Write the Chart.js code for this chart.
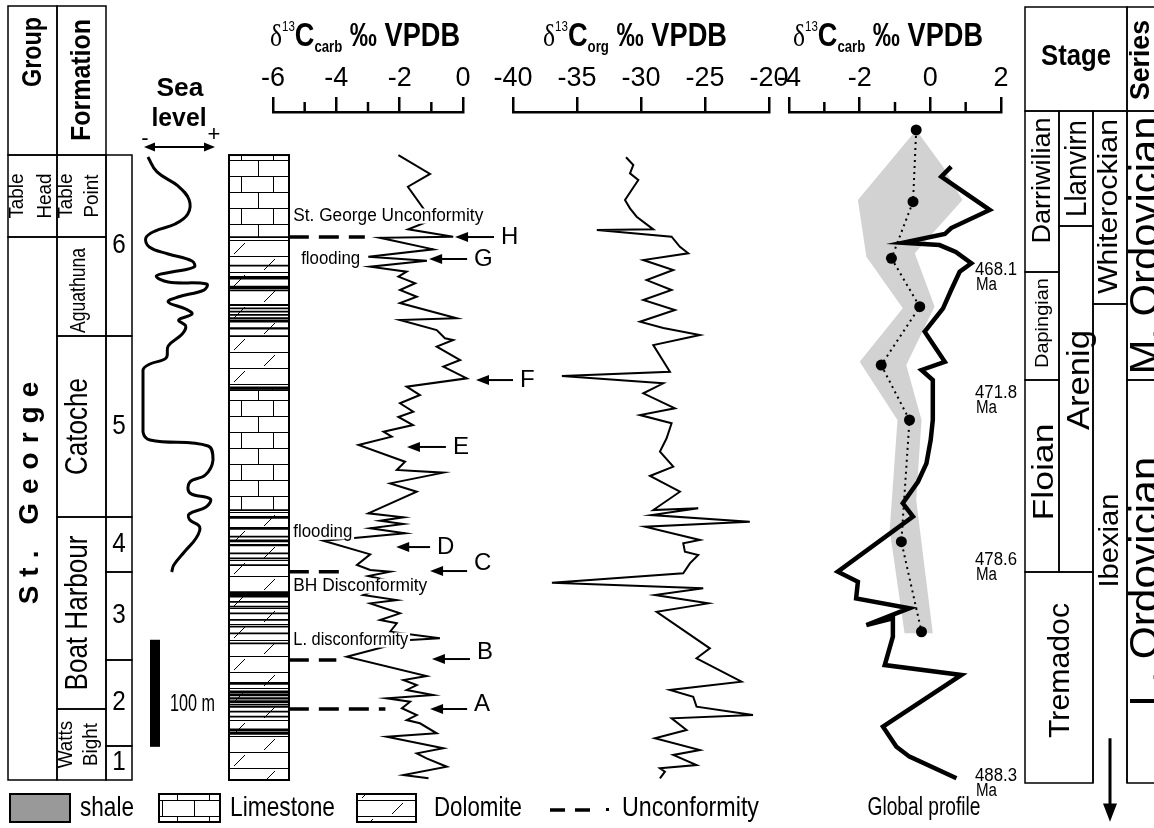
<!DOCTYPE html>
<html>
<head>
<meta charset="utf-8">
<script src="https://cdn.jsdelivr.net/npm/chart.js@4.4.1/dist/chart.umd.min.js"></script>
<style>
  html, body { margin: 0; padding: 0; background: #fff; }
  #fig { position: relative; width: 1154px; height: 828px; overflow: hidden; background: #fff; }
  #fig canvas { position: absolute; left: 0; top: 0; }
</style>
</head>
<body>
<div id="fig"></div>
<script>
// ---------- data (stratigraphic height in metres above base of section) ----------
const sectionTop = 583.8;

const groupNames = ['Table\nHead', 'St. George'];
const groupTop   = [583.8, 507.2];
const groupBase  = [507.2, 0];

const formationNames = ['Table\nPoint', 'Aguathuna', 'Catoche', 'Boat Harbour', 'Watts\nBight'];
const formationTop   = [583.8, 507.2, 414.7, 245.7, 66.3];
const formationBase  = [507.2, 414.7, 245.7, 66.3, 0];

const unitNames = ['6', '5', '4', '3', '2', '1'];
const unitTop   = [583.8, 414.7, 245.7, 194.3, 112.1, 31.8];
const unitBase  = [414.7, 245.7, 194.3, 112.1, 31.8, 0];

const lithType = ['lime', 'dolo', 'dolo', 'lime', 'dolo'];
const lithTop  = [583.8, 507.2, 414.7, 364.3, 252.2];
const lithBase = [507.2, 414.7, 364.3, 252.2, 0];

const shaleMid   = [480.4, 469.2, 460.2, 457.4, 443.7, 440.6, 437.5, 434.4, 431.3, 428.1,
                    421.9, 366.2, 245.4, 235.1, 227.3, 223.3, 219.5, 211.8, 207.1, 200.8,
                    173.4, 166.5, 161.9, 155.7, 149.5, 143.2, 137.0, 127.7, 90.3, 82.2,
                    79.4, 76.3, 73.1, 68.5, 63.8, 59.1, 46.7, 43.6];
const shaleThick = [1, 2.5, 2.5, 1, 1, 1, 1.2, 1, 1.5, 1,
                    1.5, 2, 2, 2, 1, 2, 1.5, 1, 1, 1,
                    5, 1, 1, 1, 1, 1, 1, 1, 2, 2,
                    1.5, 1.5, 2, 1.5, 1, 1, 2, 2];

const scaleBarBase = 31, scaleBarTop = 131;

// relative sea level (0 = low, 1 = high)
const seaLevelM = [582.0, 568.0, 554.9, 541.8, 528.7, 519.4, 512.8, 506.3, 497.9, 491.4,
                   484.8, 479.2, 474.5, 470.8, 465.2, 463.3, 457.7, 451.2, 446.5, 440.0,
                   435.3, 429.7, 424.1, 416.6, 405.4, 394.2, 388.6, 383.0, 355.0, 325.1,
                   317.6, 312.0, 298.9, 284.9, 278.4, 268.1, 262.5, 255.0, 248.5, 242.9,
                   236.3, 226.1, 213.0, 200.8, 194.3];
const seaValue  = [0.07, 0.20, 0.50, 0.66, 0.64, 0.46, 0.17, 0.04, 0.09, 0.36,
                   0.70, 0.73, 0.41, 0.19, 0.36, 0.91, 0.87, 0.50, 0.36, 0.61,
                   0.70, 0.51, 0.61, 0.56, 0.36, 0.33, 0.10, 0.00, 0.00, 0.00,
                   0.10, 0.93, 1.00, 0.89, 0.67, 0.67, 0.96, 0.90, 0.66, 0.67,
                   0.81, 0.76, 0.59, 0.44, 0.41];

// d13C carb (section)
const carbLevel = [583.8, 566.1, 554.2, 523.1, 514.4, 507.5, 506.5, 495.7, 488.8, 485.1,
                   479.5, 474.8, 470.2, 464.0, 457.7, 451.4, 445.6, 431.3, 429.7, 420.3,
                   412.6, 411.0, 404.8, 392.3, 386.1, 375.2, 367.4, 359.6, 351.9, 344.0,
                   339.1, 331.6, 325.4, 320.7, 312.9, 297.3, 289.6, 287.1, 277.1, 269.3,
                   249.1, 245.4, 242.2, 239.1, 235.1, 230.4, 226.3, 223.5, 210.8, 200.8,
                   196.2, 194.6, 190.6, 185.0, 172.8, 168.1, 165.0, 155.7, 149.5, 146.4,
                   138.5, 132.4, 130.8, 115.2, 97.1, 93.4, 88.7, 84.1, 79.4, 76.3,
                   73.1, 67.0, 60.7, 56.0, 53.0, 43.6, 40.4, 29.6, 24.9, 20.2,
                   12.4, 4.7, 1.6];
const carbD13C  = [-2.04, -1.04, -1.74, -0.99, -1.73, -0.31, -2.62, -0.94, -2.99, -1.14,
                   -2.93, -1.78, -2.04, -1.51, -1.99, -1.46, -1.99, -0.20, -1.99, -0.83,
                   -0.57, -0.31, -0.83, -0.09, -0.62, 0.12, -1.78, -1.36, -1.99, -1.57,
                   -2.04, -1.58, -2.51, -2.25, -3.30, -1.83, -2.09, -0.62, -2.30, -1.46,
                   -2.99, -1.88, -2.62, -1.88, -2.93, -1.83, -3.35, -4.41, -2.93, -3.35,
                   -2.93, -2.30, -2.99, -2.15, -3.15, -2.09, -2.93, -1.99, -2.62, -2.09,
                   -2.30, -0.73, -1.67, -3.67, -1.15, -1.88, -1.46, -1.78, -0.94, -2.41,
                   -1.67, -1.93, -1.46, -1.78, -1.36, -0.83, -2.41, -0.62, -1.46, -1.15,
                   -0.51, -1.88, -1.09];

// d13C org (section)
const orgLevel = [581.7, 574.5, 566.7, 560.5, 541.8, 534.0, 526.2, 514.4, 513.8, 507.5,
                  498.1, 492.0, 485.7, 476.4, 467.0, 457.7, 448.4, 439.1, 428.1, 422.2,
                  415.7, 406.3, 381.4, 377.4, 370.6, 361.2, 347.2, 340.9, 333.2, 319.2,
                  306.7, 292.7, 284.0, 269.3, 252.2, 253.8, 247.5, 241.3, 236.6, 224.2,
                  221.1, 213.3, 210.2, 202.4, 193.1, 184.3, 179.1, 172.8, 165.0, 157.2,
                  123.0, 113.7, 91.8, 84.1, 77.8, 68.5, 60.7, 57.6, 46.7, 39.0,
                  28.0, 23.4, 14.0, 10.9, 7.8, 1.6];
const orgD13C  = [-31.17, -30.60, -30.86, -30.21, -31.25, -30.86, -30.34, -29.04, -33.45, -27.61,
                  -26.96, -26.31, -29.82, -27.48, -29.56, -27.61, -29.82, -27.35, -30.08, -28.26,
                  -25.40, -29.04, -27.74, -36.18, -28.26, -29.82, -27.35, -30.08, -27.61, -28.00,
                  -28.52, -27.48, -29.30, -26.96, -29.04, -25.53, -29.17, -21.50, -29.69, -25.40,
                  -26.70, -26.57, -25.53, -26.18, -26.70, -36.96, -25.14, -28.91, -24.75, -28.78,
                  -24.62, -25.66, -22.15, -27.74, -25.92, -25.66, -21.25, -27.61, -26.44, -28.91,
                  -25.40, -27.48, -25.66, -28.52, -28.13, -28.52];

// d13C carb, section curve compared with global profile
const globLevel = [572.9, 563.6, 532.5, 515.6, 510.0, 501.9, 499.7, 493.2, 482.7, 474.8,
                   457.7, 440.6, 418.8, 390.7, 383.0, 373.7, 336.3, 317.6, 295.8, 278.6,
                   258.5, 246.0, 194.6, 185.2, 169.7, 160.5, 144.8, 151.0, 133.9, 107.4,
                   98.1, 49.8, 31.1, 21.8, 1.6];
const globD13C  = [0.59, 0.31, 1.68, 0.59, 0.41, -0.78, 0.26, 0.72, 1.16, 0.83,
                   0.59, 0.36, -0.16, 0.41, -0.25, 0.07, 0.07, 0.01, -0.11, -0.35,
                   -0.78, -0.49, -2.62, -2.05, -2.10, -0.59, -1.81, -1.06, -1.06, -1.29,
                   0.88, -1.34, -0.96, -0.59, 0.74];

const profileLevel = [607.2, 540.2, 487.3, 442.1, 387.6, 336.3, 222.6, 138.5];
const profileD13C  = [-0.40, -0.49, -1.10, -0.30, -1.39, -0.59, -0.82, -0.25];

const bandLevel = [607.2, 541.8, 488.8, 440.6, 390.8, 336.3, 233.5, 137.0,
                   137.0, 261.6, 336.3, 387.6, 442.3, 492.0, 541.8, 572.9];
const bandD13C  = [-0.40, -2.05, -1.81, -0.78, -2.00, -0.93, -1.15, -0.73,
                   0.07, -0.40, -0.25, -0.68, 0.12, -0.44, 0.91, 0.36];

// unconformities and event markers
const unconfLevel = [507.2, 194.6, 112.1, 66.3];
const unconfFrom  = [-5.5, -5.5, -5.5, -5.5];
const unconfTo    = [-3.1, -3.7, -4.0, -2.45];

const markerName  = ['H', 'G', 'F', 'E', 'D', 'C', 'B', 'A'];
const markerLevel = [507.2, 486.7, 373.6, 311.1, 217.6, 195.2, 113.0, 66.3];
const markerTail  = [0.98, 0.13, 1.58, -0.54, -1.04, 0.13, 0.22, 0.13];
const markerHead  = [-0.25, -1.07, 0.41, -1.77, -2.11, -1.04, -0.98, -1.04];

const noteText  = ['St. George Unconformity', 'flooding', 'flooding', 'BH Disconformity', 'L. disconformity'];
const noteLevel = [526.8, 486.7, 231.7, 181.2, 130.8];
const noteX     = [-5.36, -5.11, -5.36, -5.36, -5.36];

// stages / series
const stageNames = ['Darriwilian', 'Dapingian', 'Floian', 'Tremadoc', 'Llanvirn', 'Arenig', 'Whiterockian', 'Ibexian'];
const stageCol   = ['a', 'a', 'a', 'ab', 'b', 'b', 'c', 'c'];
const stageTop   = [624.9, 474.5, 373.6, 194.3, 624.9, 517.5, 624.9, 444.6];
const stageBase  = [474.5, 373.6, 194.3, -2.8, 517.5, 194.3, 444.6, -2.8];

const seriesNames = ['M. Ordovician', 'L. Ordovician'];
const seriesTop   = [624.9, 373.6];
const seriesBase  = [373.6, -2.8];

const ageNames = ['468.1', '471.8', '478.6', '488.3'];
const ageLevel = [476.4, 361.5, 205.5, 3.7];

// ---------- layout ----------
const FONT = '"Liberation Sans", Arial, sans-serif';
const W = 1154, H = 828, AREA_BOTTOM = 786;
const Y_MIN = -5.6, Y_MAX_AXIS = 624, Y_MAX_FULL = 723;
const LEFT_COLS = { group: [0, 49], formation: [49, 98], unit: [98, 124] };
const STAGE_COLS = { a: [0, 34], ab: [0, 68], b: [34, 68], c: [68, 102], s: [102, 140] };

const LEFT_STYLE = {
  'Table\nHead':  { size: 21, sx: 0.9, lines: [-15, 13] },
  'St. George':   { size: 28, bold: true, ls: 9, dx: -2.5, dy: -20 },
  'Table\nPoint': { size: 21, sx: 0.9, lines: [-15.5, 10.5] },
  'Aguathuna':    { size: 22, w: 85, dx: -3, dy: 4 },
  'Catoche':      { size: 31, w: 97, dx: -3 },
  'Boat Harbour': { size: 31, w: 155, dx: -3 },
  'Watts\nBight': { size: 21, sx: 0.9, lines: [-15.5, 9.5] },
  '6': { size: 27, sx: 0.9 }, '5': { size: 27, sx: 0.9 }, '4': { size: 27, sx: 0.9 },
  '3': { size: 27, sx: 0.9 }, '2': { size: 27, sx: 0.9 }, '1': { size: 27, sx: 0.9 }
};
const STAGE_STYLE = {
  'Darriwilian':   { size: 25, w: 126, dx: 1, dy: -11 },
  'Dapingian':     { size: 18, w: 90, dx: 1, dy: -3 },
  'Floian':        { size: 30, w: 97, dx: 3, dy: -4 },
  'Tremadoc':      { size: 30, w: 135, dx: 2, dy: -7 },
  'Llanvirn':      { size: 30, w: 97, dx: 2 },
  'Arenig':        { size: 31, w: 100, dx: 4, dy: -19 },
  'Whiterockian':  { size: 27, w: 175, dx: 0, dy: -1 },
  'Ibexian':       { size: 27, w: 94, dx: 1, dy: -3 },
  'M. Ordovician': { size: 40, w: 258, dx: 1 },
  'L. Ordovician': { size: 40, w: 250, dx: 1 }
};

// ---------- helpers ----------
function txt(ctx, s, x, y, o) {
  o = o || {};
  const size = o.size || 20;
  ctx.save();
  ctx.font = (o.bold ? 'bold ' : '') + size + 'px ' + (o.family || FONT);
  ctx.textBaseline = 'middle';
  ctx.textAlign = o.align || 'center';
  if (o.ls) ctx.letterSpacing = o.ls + 'px';
  ctx.translate(x, y);
  if (o.rot) ctx.rotate(o.rot * Math.PI / 180);
  const mw = ctx.measureText(s).width;
  ctx.scale(o.w ? o.w / mw : (o.sx || 1), 1);
  if (o.bg) {
    ctx.fillStyle = o.bg;
    const x0 = ctx.textAlign === 'left' ? 0 : -mw / 2;
    ctx.fillRect(x0 - 2, -size * 0.42, mw + 4, size * 0.84);
  }
  ctx.fillStyle = '#000';
  ctx.fillText(s, 0, 0);
  ctx.restore();
}

function cells(ctx, X, Y, names, tops, bases, spans, styles, rot, openBottom) {
  names.forEach((n, i) => {
    const x0 = X(spans[i][0]), x1 = X(spans[i][1]), y0 = Y(tops[i]), y1 = Y(bases[i]);
    ctx.beginPath();
    if (openBottom && openBottom.includes(n)) {
      ctx.moveTo(x0, y1); ctx.lineTo(x0, y0); ctx.lineTo(x1, y0); ctx.lineTo(x1, y1);
    } else {
      ctx.rect(x0, y0, x1 - x0, y1 - y0);
    }
    ctx.stroke();
    const s = styles[n] || {};
    const cx = (x0 + x1) / 2 + (s.dx || 0), cy = (y0 + y1) / 2 + (s.dy || 0);
    n.split('\n').forEach((t, k) => {
      txt(ctx, t, cx + (s.lines ? s.lines[k] : 0), cy, Object.assign({}, s, { rot }));
    });
  });
}

function drawTitle(ctx, sub, cx, tw) {
  const runs = [
    { t: '\u03B4', f: '31px "Liberation Serif", serif', dy: 0 },
    { t: '13', f: '14px ' + FONT, dy: -15 },
    { t: 'C', f: 'bold 33px ' + FONT, dy: 0 },
    { t: sub, f: 'bold 16px ' + FONT, dy: 6 },
    { t: ' \u2030 VPDB', f: 'bold 33px ' + FONT, dy: 0 }
  ];
  ctx.save();
  let total = 0;
  runs.forEach(r => { ctx.font = r.f; r.w = ctx.measureText(r.t).width; total += r.w; });
  ctx.translate(cx - tw / 2, 46);
  ctx.scale(tw / total, 1);
  ctx.textBaseline = 'alphabetic'; ctx.textAlign = 'left'; ctx.fillStyle = '#000';
  let x = 0;
  runs.forEach(r => { ctx.font = r.f; ctx.fillText(r.t, x, r.dy); x += r.w; });
  ctx.restore();
}

function minorTicks(chart, vals) {
  const ctx = chart.ctx, xs = chart.scales.x, top = chart.chartArea.top;
  ctx.save(); ctx.strokeStyle = '#000'; ctx.lineWidth = 2.5;
  vals.forEach(v => {
    const x = xs.getPixelForValue(v);
    ctx.beginPath(); ctx.moveTo(x, top); ctx.lineTo(x, top - 10); ctx.stroke();
  });
  ctx.restore();
}

function hArrow(ctx, xTail, xHead, y) {
  ctx.save();
  ctx.strokeStyle = '#000'; ctx.fillStyle = '#000'; ctx.lineWidth = 2;
  ctx.beginPath(); ctx.moveTo(xTail, y); ctx.lineTo(xHead + 8, y); ctx.stroke();
  ctx.beginPath(); ctx.moveTo(xHead, y); ctx.lineTo(xHead + 13, y - 5); ctx.lineTo(xHead + 13, y + 5); ctx.closePath(); ctx.fill();
  ctx.restore();
}

// lithology patterns (anchored to page origin)
function makePattern(kind) {
  const c = document.createElement('canvas');
  const g = c.getContext('2d');
  g.strokeStyle = '#444'; g.lineWidth = 1;
  if (kind === 'lime') {
    c.width = 32; c.height = 32;
    g.fillStyle = '#fff'; g.fillRect(0, 0, 32, 32);
    g.beginPath();
    g.moveTo(0, 0.5); g.lineTo(32, 0.5);
    g.moveTo(0, 16.5); g.lineTo(32, 16.5);
    g.moveTo(2.5, 0); g.lineTo(2.5, 16);
    g.moveTo(17.5, 16); g.lineTo(17.5, 32);
    g.stroke();
  } else {
    c.width = 64; c.height = 32;
    g.fillStyle = '#fff'; g.fillRect(0, 0, 64, 32);
    g.beginPath();
    g.moveTo(0, 0.5); g.lineTo(64, 0.5);
    g.moveTo(0, 16.5); g.lineTo(64, 16.5);
    g.moveTo(8, 14); g.lineTo(19, 3);
    g.moveTo(42, 30); g.lineTo(53, 19);
    g.stroke();
  }
  return g.createPattern(c, 'repeat');
}
const PAT = { lime: makePattern('lime'), dolo: makePattern('dolo') };

const fig = document.getElementById('fig');
function mk(cfg) {
  const c = document.createElement('canvas');
  c.width = W; c.height = H;
  fig.appendChild(c);
  return new Chart(c.getContext('2d'), cfg);
}
function opts(left, right, top, yMax, x, plugins) {
  return {
    responsive: false, animation: false, devicePixelRatio: 1, events: [],
    layout: { padding: { left: left, right: W - right, top: top, bottom: H - AREA_BOTTOM } },
    plugins: Object.assign({ legend: { display: false }, tooltip: { enabled: false } }, plugins || {}),
    elements: { point: { radius: 0 }, line: { borderColor: '#000', tension: 0 } },
    scales: { x: x, y: { type: 'linear', display: false, min: Y_MIN, max: yMax } }
  };
}
function hiddenX(min, max) { return { type: 'linear', display: false, min: min, max: max }; }
function topAxis(min, max, step) {
  return {
    type: 'linear', position: 'top', min: min, max: max,
    afterFit: s => { s.height = 112; },
    border: { display: true, color: '#000', width: 2.5 },
    grid: { drawOnChartArea: false, drawTicks: true, tickLength: 15, lineWidth: 2.5, color: '#000' },
    ticks: { stepSize: step, color: '#000', font: { family: FONT, size: 27 }, padding: 2, maxRotation: 0, autoSkip: false }
  };
}
const pts = (xs, ys) => ys.map((y, i) => ({ x: xs[i], y: y }));

function drawLegend(ctx) {
  const y0 = 794, h = 28, yc = 808;
  ctx.save();
  ctx.strokeStyle = '#000'; ctx.lineWidth = 2;
  ctx.fillStyle = '#999'; ctx.fillRect(10, y0, 60, h); ctx.strokeRect(10, y0, 60, h);
  txt(ctx, 'shale', 80, yc, { size: 28, w: 54, align: 'left' });
  ctx.fillStyle = PAT.lime; ctx.fillRect(159, y0, 61, h); ctx.strokeRect(159, y0, 61, h);
  txt(ctx, 'Limestone', 230, yc, { size: 28, w: 105, align: 'left' });
  ctx.fillStyle = PAT.dolo; ctx.fillRect(357, y0, 59, h); ctx.strokeRect(357, y0, 59, h);
  txt(ctx, 'Dolomite', 434, yc, { size: 28, w: 88, align: 'left' });
  ctx.lineWidth = 3.5; ctx.setLineDash([15, 10]);
  ctx.beginPath(); ctx.moveTo(550, 810); ctx.lineTo(590, 810); ctx.stroke();
  ctx.setLineDash([]);
  ctx.fillStyle = '#000'; ctx.fillRect(606, 808, 3, 3);
  txt(ctx, 'Unconformity', 622, yc, { size: 28, w: 137, align: 'left' });
  ctx.restore();
}

// ---------- 1. left table + legend ----------
mk({
  type: 'line',
  data: { datasets: [] },
  options: opts(8, 132, 6, Y_MAX_FULL, hiddenX(0, 124)),
  plugins: [{
    id: 'leftTable',
    afterDraw(chart) {
      const ctx = chart.ctx, X = v => chart.scales.x.getPixelForValue(v), Y = v => chart.scales.y.getPixelForValue(v);
      const top = chart.chartArea.top;
      ctx.save();
      ctx.strokeStyle = '#000'; ctx.lineWidth = 1.5;
      const g = LEFT_COLS.group, f = LEFT_COLS.formation, u = LEFT_COLS.unit;
      ctx.strokeRect(X(g[0]), top, X(g[1]) - X(g[0]), Y(sectionTop) - top);
      ctx.strokeRect(X(f[0]), top, X(f[1]) - X(f[0]), Y(sectionTop) - top);
      txt(ctx, 'Group', (X(g[0]) + X(g[1])) / 2 + 1, 52, { size: 27, bold: true, w: 70, rot: -90 });
      txt(ctx, 'Formation', (X(f[0]) + X(f[1])) / 2 + 1, 80, { size: 27, bold: true, w: 122, rot: -90 });
      cells(ctx, X, Y, groupNames, groupTop, groupBase, groupNames.map(() => g), LEFT_STYLE, -90);
      cells(ctx, X, Y, formationNames, formationTop, formationBase, formationNames.map(() => f), LEFT_STYLE, -90);
      cells(ctx, X, Y, unitNames, unitTop, unitBase, unitNames.map(() => u), LEFT_STYLE, 0);
      ctx.restore();
      drawLegend(ctx);
    }
  }]
});

// ---------- 2. stage / series table ----------
mk({
  type: 'line',
  data: { datasets: [] },
  options: opts(1025, 1154, 6, Y_MAX_FULL, hiddenX(0, 129)),
  plugins: [{
    id: 'stageTable',
    afterDraw(chart) {
      const ctx = chart.ctx, X = v => chart.scales.x.getPixelForValue(v), Y = v => chart.scales.y.getPixelForValue(v);
      const top = chart.chartArea.top + 1, hb = Y(stageTop[0]);
      ctx.save();
      ctx.strokeStyle = '#000'; ctx.lineWidth = 1.5;
      ctx.strokeRect(X(0), top, X(102) - X(0), hb - top);
      ctx.strokeRect(X(102), top, X(140) - X(102), hb - top);
      txt(ctx, 'Stage', (X(0) + X(102)) / 2, 57, { size: 29, bold: true, w: 70 });
      txt(ctx, 'Series', X(102) + 15, 60, { size: 27, bold: true, w: 80, rot: -90 });
      cells(ctx, X, Y, stageNames, stageTop, stageBase, stageCol.map(k => STAGE_COLS[k]), STAGE_STYLE, -90, ['Ibexian']);
      cells(ctx, X, Y, seriesNames, seriesTop, seriesBase, seriesNames.map(() => STAGE_COLS.s), STAGE_STYLE, -90);
      ageNames.forEach((a, i) => {
        const y = Y(ageLevel[i]);
        txt(ctx, a, 975, y, { size: 18, w: 42, align: 'left' });
        txt(ctx, 'Ma', 976, y + 15, { size: 18, w: 21, align: 'left' });
      });
      // Ibexian continues downward
      const ax = (X(68) + X(102)) / 2;
      ctx.lineWidth = 3; ctx.fillStyle = '#000';
      ctx.beginPath(); ctx.moveTo(ax, Y(39)); ctx.lineTo(ax, Y(-26)); ctx.stroke();
      ctx.beginPath(); ctx.moveTo(ax - 7, Y(-22)); ctx.lineTo(ax + 7, Y(-22)); ctx.lineTo(ax, Y(-39)); ctx.closePath(); ctx.fill();
      ctx.restore();
    }
  }]
});

// ---------- 3. sea level ----------
mk({
  type: 'line',
  data: { datasets: [{ data: pts(seaValue, seaLevelM), borderColor: '#000', borderWidth: 3, tension: 0.4, clip: false }] },
  options: opts(143, 213, 112, Y_MAX_AXIS, hiddenX(0, 1)),
  plugins: [{
    id: 'seaExtras',
    afterDraw(chart) {
      const ctx = chart.ctx, X = v => chart.scales.x.getPixelForValue(v), Y = v => chart.scales.y.getPixelForValue(v);
      txt(ctx, 'Sea', 180, 89, { size: 25, bold: true, w: 47 });
      txt(ctx, 'level', 179, 119, { size: 25, bold: true, w: 55 });
      txt(ctx, '-', X(0) + 2, 139, { size: 22 });
      txt(ctx, '+', X(1) + 1, 135, { size: 22 });
      ctx.save();
      ctx.strokeStyle = '#000'; ctx.fillStyle = '#000'; ctx.lineWidth = 2;
      const xa = X(0) + 1, xb = X(1) + 2, ya = 147;
      ctx.beginPath(); ctx.moveTo(xa + 6, ya); ctx.lineTo(xb - 6, ya); ctx.stroke();
      ctx.beginPath(); ctx.moveTo(xa, ya); ctx.lineTo(xa + 11, ya - 4.5); ctx.lineTo(xa + 11, ya + 4.5); ctx.closePath(); ctx.fill();
      ctx.beginPath(); ctx.moveTo(xb, ya); ctx.lineTo(xb - 11, ya - 4.5); ctx.lineTo(xb - 11, ya + 4.5); ctx.closePath(); ctx.fill();
      // 100 m scale bar
      const yt = Y(scaleBarTop), yb = Y(scaleBarBase);
      ctx.fillRect(150, yt, 10, yb - yt);
      ctx.restore();
      txt(ctx, '100 m', 170, (yt + yb) / 2 + 11, { size: 24, w: 45, align: 'left' });
    }
  }]
});

// ---------- 4. lithology column ----------
mk({
  type: 'bar',
  data: {
    labels: ['lith'],
    datasets: lithType.map((t, i) => ({
      data: [[lithBase[i], lithTop[i]]], backgroundColor: PAT[t], borderColor: '#000', borderWidth: 1.2, borderSkipped: false, order: 2
    })).concat(shaleMid.map((m, i) => ({
      data: [[m - shaleThick[i] / 2, m + shaleThick[i] / 2]], backgroundColor: '#000', borderWidth: 0, order: 1
    })))
  },
  options: Object.assign(opts(229, 289, 112, Y_MAX_AXIS, { type: 'category', display: false }), {
    datasets: { bar: { grouped: false, barPercentage: 1, categoryPercentage: 1 } }
  }),
  plugins: [{
    id: 'lithFrame',
    afterDraw(chart) {
      const ctx = chart.ctx, a = chart.chartArea, Y = v => chart.scales.y.getPixelForValue(v);
      ctx.save(); ctx.strokeStyle = '#000'; ctx.lineWidth = 2;
      ctx.strokeRect(a.left, Y(sectionTop), a.right - a.left, Y(0) - Y(sectionTop));
      ctx.restore();
    }
  }]
});

// ---------- 5. d13C carb ----------
mk({
  type: 'line',
  data: {
    datasets: [{ data: pts(carbD13C, carbLevel), borderColor: '#000', borderWidth: 2, clip: false }]
      .concat(unconfLevel.map((y, i) => ({
        data: [{ x: unconfFrom[i], y: y }, { x: unconfTo[i], y: y }],
        borderColor: '#000', borderWidth: 3.5, borderDash: [20, 10], clip: false
      })))
  },
  options: opts(273, 463, 0, Y_MAX_AXIS, topAxis(-6, 0, 2)),
  plugins: [{
    id: 'carbExtras',
    afterDatasetsDraw(chart) {
      const ctx = chart.ctx, X = v => chart.scales.x.getPixelForValue(v), Y = v => chart.scales.y.getPixelForValue(v);
      const noteW = [190, 59, 59, 134, 115];
      noteText.forEach((t, i) => txt(ctx, t, X(noteX[i]), Y(noteLevel[i]), { size: 18, w: noteW[i], align: 'left', bg: '#fff' }));
      const lblDy = [0, 0, 0, 0, 0, -8, -7, -5];
      markerName.forEach((n, i) => {
        const y = Y(markerLevel[i]);
        hArrow(ctx, X(markerTail[i]), X(markerHead[i]), y);
        txt(ctx, n, X(markerTail[i]) + 7, y + lblDy[i], { size: 24, align: 'left' });
      });
    },
    afterDraw(chart) {
      minorTicks(chart, [-5, -3, -1]);
      const a = chart.chartArea;
      drawTitle(chart.ctx, 'carb', (a.left + a.right) / 2 - 3, 190);
    }
  }]
});

// ---------- 6. d13C org ----------
mk({
  type: 'line',
  data: { datasets: [{ data: pts(orgD13C, orgLevel), borderColor: '#000', borderWidth: 2, clip: false }] },
  options: opts(513, 769, 0, Y_MAX_AXIS, topAxis(-40, -20, 5)),
  plugins: [{
    id: 'orgExtras',
    afterDraw(chart) {
      const a = chart.chartArea;
      drawTitle(chart.ctx, 'org', (a.left + a.right) / 2 - 6, 184);
    }
  }]
});

// ---------- 7. d13C carb vs global profile ----------
mk({
  type: 'line',
  data: {
    datasets: [
      { data: pts(profileD13C, profileLevel), borderColor: '#000', borderWidth: 2, borderDash: [2, 4],
        pointRadius: 5.5, pointBackgroundColor: '#000', pointBorderWidth: 0, clip: false },
      { data: pts(globD13C, globLevel), borderColor: '#000', borderWidth: 4.5, clip: false },
      { data: pts(bandD13C, bandLevel), borderWidth: 0, borderColor: 'rgba(0,0,0,0)', backgroundColor: '#d2d2d2', fill: 'shape', clip: false }
    ]
  },
  options: opts(789, 1001, 0, Y_MAX_AXIS, topAxis(-4, 2, 2)),
  plugins: [{
    id: 'globExtras',
    afterDraw(chart) {
      minorTicks(chart, [-3, -1, 1]);
      const a = chart.chartArea;
      drawTitle(chart.ctx, 'carb', (a.left + a.right) / 2 - 7, 190);
      txt(chart.ctx, 'Global profile', 924, 808, { size: 26, w: 113 });
    }
  }]
});
</script>
</body>
</html>
